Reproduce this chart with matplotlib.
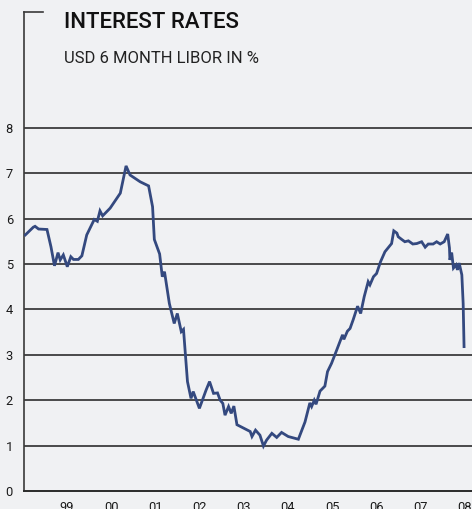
import matplotlib
matplotlib.use("Agg")
import matplotlib.pyplot as plt

# USD 6-month LIBOR, decimal year vs rate in %
dates = [
    1998.06, 1998.24, 1998.28, 1998.36, 1998.55, 1998.64, 1998.72, 1998.80, 1998.85, 1998.92,
    1999.01, 1999.09, 1999.15, 1999.26, 1999.34, 1999.45, 1999.62, 1999.69, 1999.75, 1999.81,
    1999.98, 2000.21, 2000.34, 2000.43, 2000.66, 2000.85, 2000.94, 2000.98, 2001.10, 2001.16,
    2001.21, 2001.32, 2001.43, 2001.50, 2001.59, 2001.64, 2001.73, 2001.81, 2001.86, 2002.00,
    2002.15, 2002.23, 2002.32, 2002.41, 2002.47, 2002.53, 2002.58, 2002.66, 2002.72, 2002.78,
    2002.85, 2003.15, 2003.19, 2003.27, 2003.37, 2003.45, 2003.52, 2003.64, 2003.75, 2003.86,
    2004.01, 2004.24, 2004.39, 2004.50, 2004.54, 2004.60, 2004.64, 2004.73, 2004.84, 2004.90,
    2004.99, 2005.11, 2005.24, 2005.27, 2005.35, 2005.41, 2005.48, 2005.58, 2005.65, 2005.73,
    2005.82, 2005.86, 2005.94, 2006.01, 2006.10, 2006.20, 2006.30, 2006.35, 2006.40, 2006.47,
    2006.50, 2006.58, 2006.65, 2006.73, 2006.83, 2006.92, 2007.03, 2007.11, 2007.18, 2007.29,
    2007.37, 2007.45, 2007.54, 2007.62, 2007.66, 2007.67, 2007.71, 2007.75, 2007.81, 2007.84,
    2007.88, 2007.94, 2007.97, 2007.99,
]
libor = [
    5.64, 5.81, 5.83, 5.77, 5.76, 5.38, 4.96, 5.25, 5.09, 5.20,
    4.94, 5.16, 5.10, 5.10, 5.18, 5.64, 5.98, 5.94, 6.17, 6.06,
    6.23, 6.56, 7.16, 6.96, 6.81, 6.72, 6.26, 5.54, 5.22, 4.72,
    4.83, 4.13, 3.69, 3.91, 3.51, 3.56, 2.41, 2.04, 2.19, 1.82,
    2.22, 2.41, 2.15, 2.16, 2.00, 1.93, 1.67, 1.86, 1.71, 1.87,
    1.46, 1.31, 1.20, 1.34, 1.23, 0.99, 1.12, 1.27, 1.18, 1.29,
    1.20, 1.14, 1.52, 1.94, 1.86, 2.00, 1.91, 2.20, 2.31, 2.63,
    2.81, 3.11, 3.44, 3.34, 3.52, 3.58, 3.77, 4.07, 3.91, 4.28,
    4.61, 4.54, 4.72, 4.79, 5.05, 5.27, 5.39, 5.45, 5.73, 5.68,
    5.60, 5.54, 5.49, 5.51, 5.44, 5.45, 5.49, 5.37, 5.44, 5.44,
    5.49, 5.44, 5.49, 5.66, 5.35, 5.09, 5.25, 4.91, 4.98, 4.87,
    5.02, 4.76, 4.13, 3.18,
]
year_ticks = [1999, 2000, 2001, 2002, 2003, 2004, 2005, 2006, 2007, 2008]
year_labels = ["99", "00", "01", "02", "03", "04", "05", "06", "07", "08"]
rate_ticks = [0, 1, 2, 3, 4, 5, 6, 7, 8]

BG = "#f0f1f3"
LINE = "#34497f"
FONT = "Roboto"

fig = plt.figure(figsize=(4.72, 5.09), dpi=100, facecolor=BG)
ax = fig.add_axes([24 / 472, 18 / 509, 448 / 472, 479 / 509])
ax.set_facecolor(BG)

for r in rate_ticks[1:]:
    ax.axhline(r, color="#1c1c1c", lw=1.1, zorder=1)

ax.plot(dates, libor, color=LINE, lw=2.0, solid_joinstyle="miter", zorder=3)

ax.set_xlim(1998.03, 2008.17)
ax.set_ylim(0, 10.55)

ax.set_xticks(year_ticks)
ax.set_xticklabels(year_labels)
ax.set_yticks(rate_ticks)
ax.tick_params(axis="both", length=0, labelsize=9.3, colors="#1a1a1a")
ax.tick_params(axis="y", pad=8)
ax.tick_params(axis="x", pad=7)
for lab in ax.get_xticklabels() + ax.get_yticklabels():
    lab.set_family(FONT)

for side in ("top", "right"):
    ax.spines[side].set_visible(False)
ax.spines["left"].set_color("#3a3a3a")
ax.spines["left"].set_linewidth(1.2)
ax.spines["bottom"].set_color("#2a2a2a")
ax.spines["bottom"].set_linewidth(1.4)

# short bracket at the top of the value axis
ax.plot([0, 0.043], [1, 1], transform=ax.transAxes, color="#3a3a3a",
        lw=1.2, clip_on=False, solid_capstyle="projecting")

fig.text(64 / 472, 1 - 28 / 509, "INTEREST RATES", fontsize=16,
         family=FONT, weight="medium", color="#111111", va="baseline")
fig.text(64 / 472, 1 - 63 / 509, "USD 6 MONTH LIBOR IN %", fontsize=12,
         family=FONT, color="#222222", va="baseline")

fig.savefig("out.png", dpi=100, facecolor=BG)
